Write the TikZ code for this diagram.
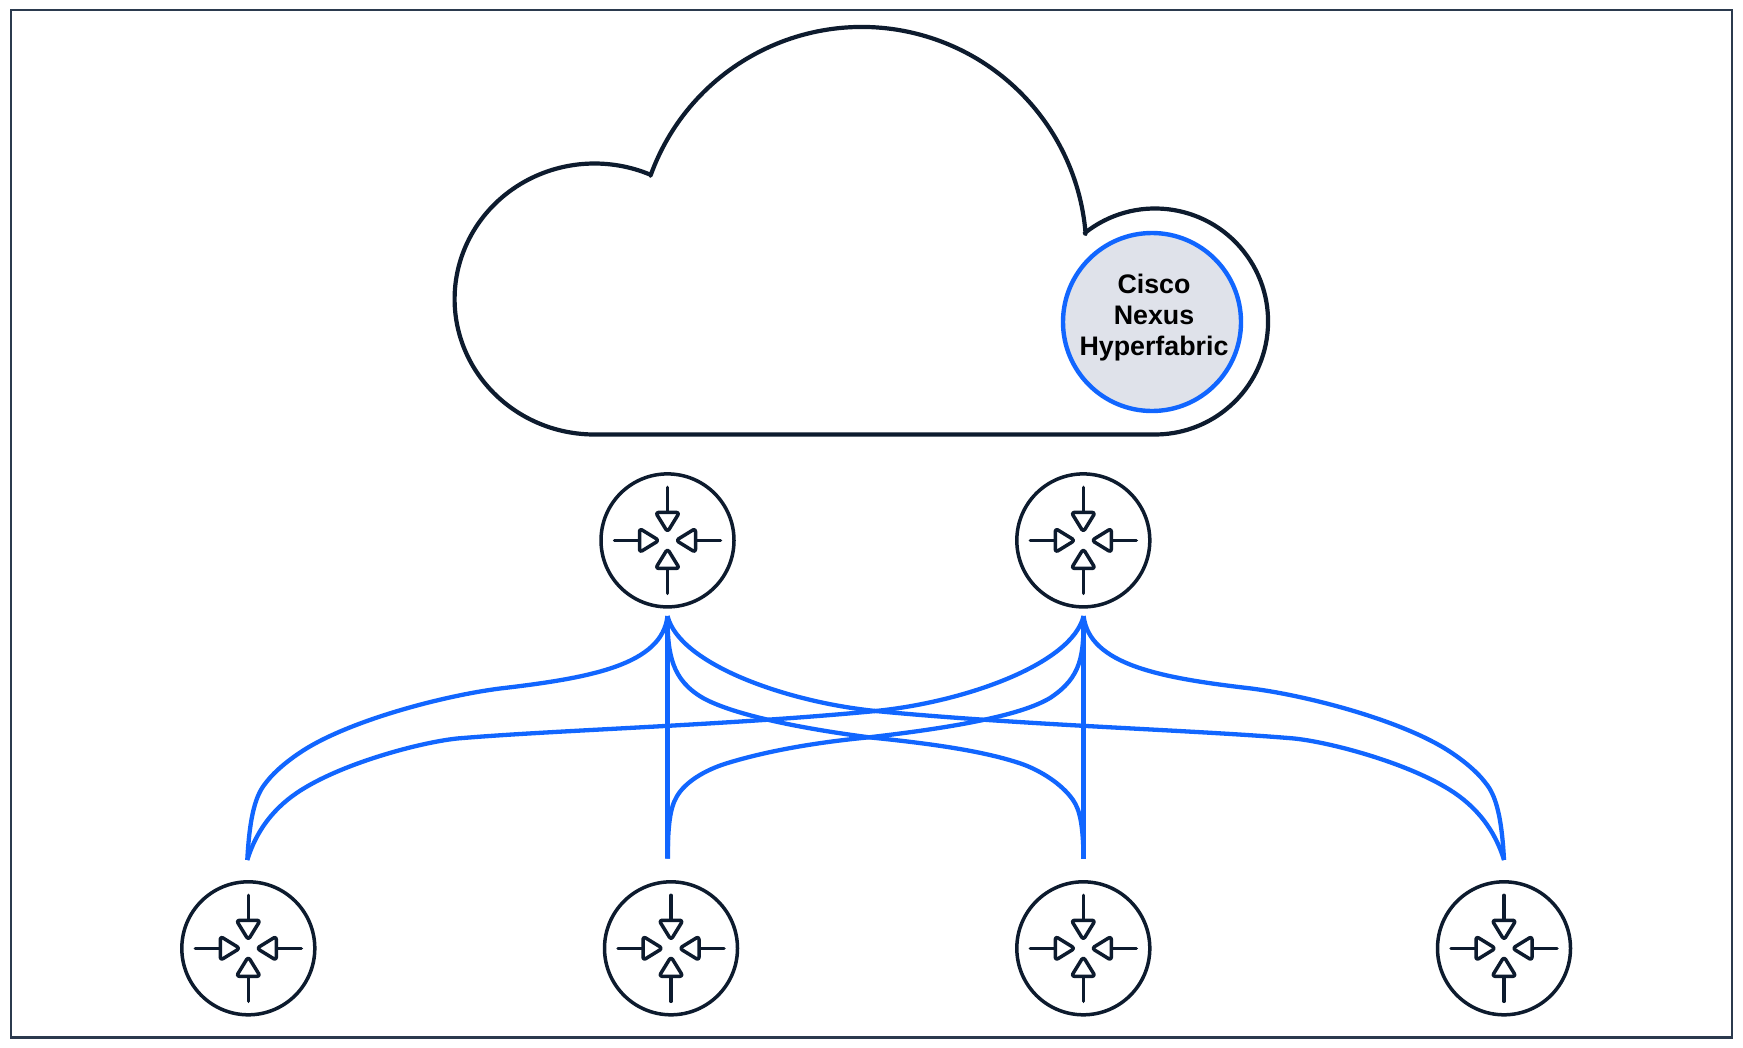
\documentclass[tikz,border=0pt]{standalone}
\usepackage{fontspec}
\setmainfont{Liberation Sans}
\definecolor{inkdark}{HTML}{0D1B2E}
\definecolor{framecol}{HTML}{2B3A4E}
\definecolor{linkblue}{HTML}{1166FF}
\definecolor{hubgray}{HTML}{DFE2EA}
\tikzset{
  router/.style={circle,draw=inkdark,line width=3.5pt,fill=white,minimum size=133pt,inner sep=0pt,outer sep=0pt},
  hub/.style={circle,draw=linkblue,line width=4.4pt,fill=hubgray,minimum size=178pt,inner sep=0pt,outer sep=0pt},
  hublabel/.style={align=center,inner sep=0pt,font=\fontsize{26.8pt}{31pt}\selectfont\bfseries,text=black},
  cloudline/.style={draw=inkdark,line width=4.2pt,line join=round},
  framebox/.style={draw=framecol,line width=2.2pt},
  link/.style={draw=linkblue,line width=4.3pt,line cap=butt,line join=round},
  icon/.style={draw=inkdark,line width=3.5pt,line cap=round,line join=round}
}
\newcommand{\routerglyph}[1]{%
  \foreach \ang in {0,90,180,270}{
    \begin{scope}[shift={(#1)},rotate=\ang]
      \draw[icon] (0,-53) -- (0,-28);
      \draw[icon,rounded corners=3pt,fill=white] (-12,-28) -- (12,-28) -- (0,-8.5) -- cycle;
    \end{scope}
  }%
}
\begin{document}
\begin{tikzpicture}[x=1pt,y=-1pt]
\useasboundingbox (0,0) rectangle (1743,1047);
\fill[white] (0,0) rectangle (1743,1047);
\draw[framebox] (11,10) rectangle (1732,1037.5);

% cloud
\draw[cloudline] (650.5,175.7)
  arc[start angle=160.27,end angle=4.47,radius=224.5pt]
  -- (1084.8,233)
  arc[start angle=128.46,end angle=-90,radius=113pt]
  -- (594.6,434.5)
  arc[start angle=270,end angle=66.5,x radius=140pt,y radius=135.5pt]
  -- cycle;

\node[hub] (hub) at (1152,322) {};
\node[hublabel] (hubtext) at (1154,317.5) {Cisco\\Nexus\\Hyperfabric};

% routers
\node[router] (t1) at (667.5,540.4) {};
\node[router] (t2) at (1083.3,540.4) {};
\node[router] (b1) at (248.3,948.3) {};
\node[router] (b2) at (671,948.3) {};
\node[router] (b3) at (1083.3,948.3) {};
\node[router] (b4) at (1504,948.3) {};
\routerglyph{t1}\routerglyph{t2}\routerglyph{b1}\routerglyph{b2}\routerglyph{b3}\routerglyph{b4}

% link end points
\coordinate (t1a) at (667.5,616);
\coordinate (t2a) at (1083.6,616);
\coordinate (b1a) at (247.3,860);
\coordinate (b2a) at (667.6,858.5);
\coordinate (b3a) at (1083.6,858.5);
\coordinate (b4a) at (1504,860);

% straight links
\draw[link,line width=4.8pt] (t1a) -- (b2a);
\draw[link,line width=4.8pt] (t2a) -- (b3a);

% t1 - b1
\draw[link] (t1a) .. controls (662,665) and (590,678) .. (500,688.5)
  .. controls (445,695.5) and (355,719) .. (306.7,748.3)
  .. controls (290,758.5) and (275,771) .. (266.7,781.7)
  .. controls (258,792) and (250,808) .. (b1a);
% t2 - b4
\draw[link] (t2a) .. controls (1089.3,665) and (1161.3,678) .. (1251.3,688.5)
  .. controls (1306.3,695.5) and (1396.3,719) .. (1444.6,748.3)
  .. controls (1461.3,758.5) and (1476.3,771) .. (1484.6,781.7)
  .. controls (1493.3,792) and (1501.3,808) .. (b4a);
% t2 - b1
\draw[link] (t2a) .. controls (1072,664) and (965,702) .. (875.6,711)
  .. controls (730,725) and (560,730) .. (463,738)
  .. controls (430,740) and (352,760) .. (306.7,786.7)
  .. controls (280,802) and (258,825) .. (b1a);
% t1 - b4
\draw[link] (t1a) .. controls (679.3,664) and (786.3,702) .. (875.7,711)
  .. controls (1021.3,725) and (1191.3,730) .. (1288.3,738)
  .. controls (1321.3,740) and (1399.3,760) .. (1444.6,786.7)
  .. controls (1471.3,802) and (1493.3,825) .. (b4a);
% t2 - b2
\draw[link] (t2a) .. controls (1083.6,655) and (1082,677) .. (1050,698)
  .. controls (1020,716) and (950,728) .. (869,737.3)
  .. controls (820,742) and (770,750) .. (726.7,763.3)
  .. controls (705,770) and (685,782) .. (676.7,796.7)
  .. controls (670,808) and (668,825) .. (b2a);
% t1 - b3
\draw[link] (t1a) .. controls (667.5,655) and (672,680) .. (703,698)
  .. controls (730,713) and (790,727) .. (869,737.3)
  .. controls (925,743) and (980,750) .. (1020,763.3)
  .. controls (1040,770) and (1062,784) .. (1073,800)
  .. controls (1080,810) and (1083,825) .. (b3a);
\end{tikzpicture}
\end{document}
